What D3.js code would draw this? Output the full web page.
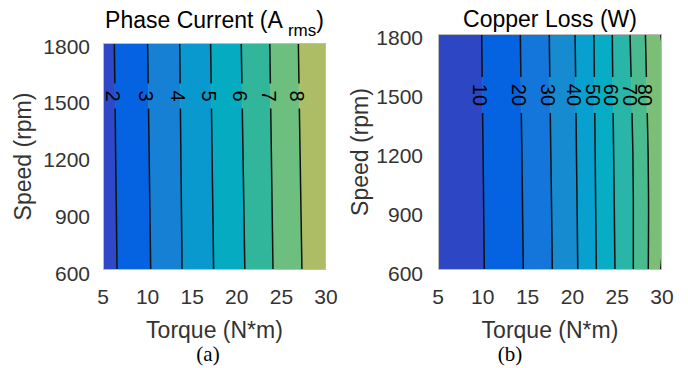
<!DOCTYPE html>
<html>
<head>
<meta charset="utf-8">
<script src="https://cdn.jsdelivr.net/npm/d3@7"></script>
<style>
    body { margin: 0; background: #fff; }
    text { font-family: "Liberation Sans", Arial, sans-serif; }
</style>
</head>
<body>
<div id="chart"></div>
<script>
var speeds = [600, 900, 1200, 1500, 1800];
var torqueTicks = [5, 10, 15, 20, 25, 30];
var speedTicks = [600, 900, 1200, 1500, 1800];

// (a) phase current, torque where each level crosses the speeds above
var currentLevels = [2, 3, 4, 5, 6, 7, 8];
var currentContours = [
    [6.57, 6.50, 6.42, 6.35, 6.27],
    [10.35, 10.26, 10.18, 10.09, 10.00],
    [13.86, 13.80, 13.73, 13.67, 13.60],
    [17.40, 17.32, 17.23, 17.15, 17.06],
    [20.90, 20.80, 20.70, 20.60, 20.50],
    [24.06, 23.97, 23.88, 23.79, 23.70],
    [27.30, 27.20, 27.10, 27.00, 26.90]
];
var currentColors = ['#2f48c8', '#0562e0', '#1680d4', '#0a99cf', '#05acc1', '#31b59b', '#6dbf80', '#acbd65'];

// (b) copper loss
var lossLevels = [10, 20, 30, 40, 50, 60, 70, 80, 90];
var lossContours = [
    [10.17, 10.10, 10.03, 9.95, 9.88],
    [14.52, 14.44, 14.36, 14.27, 14.19],
    [17.76, 17.68, 17.59, 17.50, 17.42],
    [20.60, 20.53, 20.45, 20.38, 20.30],
    [22.67, 22.60, 22.54, 22.47, 22.40],
    [24.75, 24.68, 24.60, 24.52, 24.45],
    [26.80, 26.80, 26.75, 26.60, 26.43],
    [28.47, 28.50, 28.45, 28.30, 28.15],
    [29.85, 30.37, 30.60, 30.53, 29.85]
];
var lossLabelled = [10, 20, 30, 40, 50, 60, 70, 80];
var lossColors = ['#2d46c4', '#0562e0', '#1475da', '#178bd0', '#07a0cf', '#06adc4', '#29b6a8', '#4abb8e', '#7bbf77', '#9fbf6c'];

var svg = d3.select("#chart").append("svg")
    .attr("width", 688)
    .attr("height", 368);

function drawPanel(p) {
    var x = d3.scaleLinear().domain([5, 30]).range([p.left, p.right]);
    var y = d3.scaleLinear().domain([600, 1800]).range([p.bottom, p.top]);

    var defs = svg.append("defs");
    defs.append("clipPath").attr("id", p.id + "-clip")
        .append("rect")
        .attr("x", p.left).attr("y", p.top)
        .attr("width", p.right - p.left).attr("height", p.bottom - p.top);

    // filled bands between neighbouring contour lines
    var bounds = [speeds.map(function () { return 4; })]
        .concat(p.contours)
        .concat([speeds.map(function () { return 31; })]);

    var area = d3.area()
        .curve(d3.curveMonotoneY)
        .y(function (d) { return y(d.s); })
        .x0(function (d) { return x(d.a); })
        .x1(function (d) { return x(d.b); });

    var g = svg.append("g").attr("clip-path", "url(#" + p.id + "-clip)");
    for (var i = 0; i < bounds.length - 1; i++) {
        var band = speeds.map(function (s, j) {
            return {s: s, a: bounds[i][j], b: bounds[i + 1][j]};
        });
        g.append("path")
            .attr("d", area(band))
            .attr("fill", p.colors[i])
            .attr("stroke", p.colors[i])
            .attr("stroke-width", 0.6);
    }

    // label positions (on each labelled line at the label speed)
    var labels = [];
    p.levels.forEach(function (lv, k) {
        if (p.labelled.indexOf(lv) < 0) return;
        var at = d3.scaleLinear().domain(speeds).range(p.contours[k]);
        labels.push({text: String(lv), x: x(at(p.labelSpeed)), y: y(p.labelSpeed)});
    });

    var mask = defs.append("mask").attr("id", p.id + "-mask")
        .attr("maskUnits", "userSpaceOnUse")
        .attr("x", 0).attr("y", 0).attr("width", 688).attr("height", 368);
    mask.append("rect").attr("x", 0).attr("y", 0).attr("width", 688).attr("height", 368).attr("fill", "#fff");
    labels.forEach(function (l) {
        var h = l.text.length * 11 + 14;
        mask.append("rect")
            .attr("x", l.x - 5).attr("y", l.y - h / 2)
            .attr("width", 10).attr("height", h)
            .attr("fill", "#000");
    });

    var line = d3.line()
        .curve(d3.curveMonotoneY)
        .x(function (d) { return x(d.t); })
        .y(function (d) { return y(d.s); });

    g.append("g").attr("mask", "url(#" + p.id + "-mask)")
        .selectAll("path")
        .data(p.contours)
        .enter().append("path")
        .attr("d", function (c) {
            return line(speeds.map(function (s, j) { return {s: s, t: c[j]}; }));
        })
        .attr("fill", "none")
        .attr("stroke", "#111")
        .attr("stroke-width", 1.5);

    svg.append("g").selectAll("text")
        .data(labels)
        .enter().append("text")
        .attr("transform", function (l) { return "translate(" + (l.x - 2) + "," + l.y + ") rotate(90)"; })
        .attr("text-anchor", "middle")
        .attr("dominant-baseline", "central")
        .style("font-size", "20px")
        .style("fill", "#000")
        .text(function (l) { return l.text; });

    // box
    svg.append("rect")
        .attr("x", p.left + 0.5).attr("y", p.top + 0.5)
        .attr("width", p.right - p.left - 1).attr("height", p.bottom - p.top - 1)
        .attr("fill", "none")
        .attr("stroke", "#bdbdbd")
        .attr("stroke-width", 1);

    // ticks
    svg.append("g").selectAll("text")
        .data(torqueTicks)
        .enter().append("text")
        .attr("x", function (d) { return x(d); })
        .attr("y", 304)
        .attr("text-anchor", "middle")
        .style("font-size", "21px")
        .style("fill", "#333")
        .text(function (d) { return d; });

    svg.append("g").selectAll("text")
        .data(speedTicks)
        .enter().append("text")
        .attr("x", p.left - p.tickGap)
        .attr("y", function (d) { return y(d) + 3; })
        .attr("text-anchor", "end")
        .attr("dominant-baseline", "central")
        .style("font-size", "21px")
        .style("fill", "#333")
        .text(function (d) { return d; });

    // axis labels
    svg.append("text")
        .attr("x", (p.left + p.right) / 2)
        .attr("y", 338)
        .attr("text-anchor", "middle")
        .style("font-size", "23px")
        .style("fill", "#333")
        .text("Torque (N*m)");

    svg.append("text")
        .attr("transform", "translate(" + p.ylabelX + "," + (p.top + p.bottom) / 2 + ") rotate(-90)")
        .attr("text-anchor", "middle")
        .style("font-size", "23px")
        .style("fill", "#333")
        .text("Speed (rpm)");

    // caption
    svg.append("text")
        .attr("x", p.captionX)
        .attr("y", 361)
        .attr("text-anchor", "middle")
        .style("font-family", "'Liberation Serif', 'Times New Roman', serif")
        .style("font-size", "21px")
        .style("fill", "#000")
        .text(p.caption);

    return x;
}

drawPanel({
    id: "cur", left: 103, right: 326, top: 43, bottom: 270,
    contours: currentContours, levels: currentLevels, labelled: currentLevels,
    colors: currentColors, labelSpeed: 1520, tickGap: 13, ylabelX: 31,
    captionX: 208, caption: "(a)"
});

drawPanel({
    id: "loss", left: 438, right: 662, top: 34, bottom: 270,
    contours: lossContours, levels: lossLevels, labelled: lossLabelled,
    colors: lossColors, labelSpeed: 1490, tickGap: 15, ylabelX: 368,
    captionX: 510, caption: "(b)"
});

// titles
var t1 = svg.append("text")
    .attr("x", 214.5)
    .attr("y", 28)
    .attr("text-anchor", "middle")
    .style("font-size", "23px")
    .style("fill", "#000");
t1.append("tspan").text("Phase Current (A ");
t1.append("tspan").attr("dy", 8).style("font-size", "17px").text("rms");
t1.append("tspan").attr("dy", -8).text(")");

svg.append("text")
    .attr("x", 550)
    .attr("y", 27)
    .attr("text-anchor", "middle")
    .style("font-size", "23px")
    .style("fill", "#000")
    .text("Copper Loss (W)");
</script>
</body>
</html>
